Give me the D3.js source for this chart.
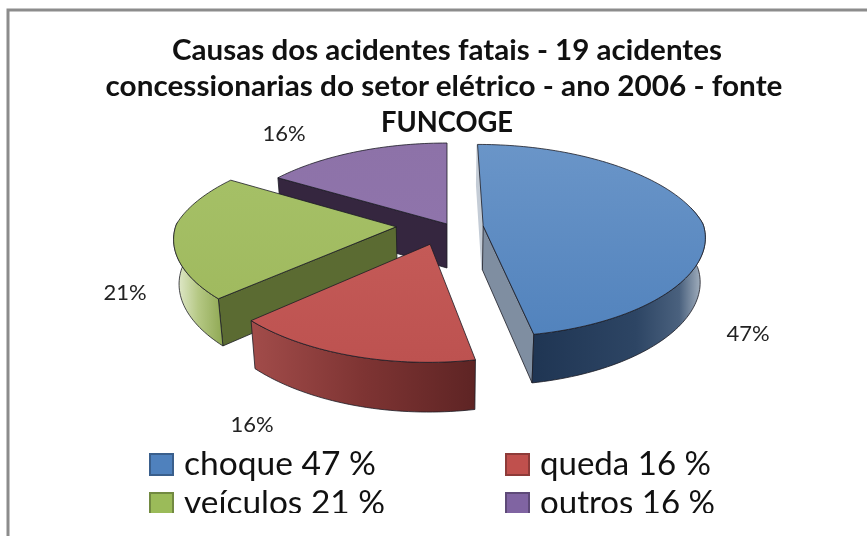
<!DOCTYPE html>
<html>
<head>
<meta charset="utf-8">
<title>Causas dos acidentes fatais</title>
<script src="https://d3js.org/d3.v7.min.js"></script>
<style>
  html, body { margin: 0; padding: 0; background: #fff; overflow: hidden; }
  svg { display: block; filter: blur(0.45px); }
  text { font-family: Lato, "Open Sans", sans-serif; fill: #111; }
</style>
</head>
<body>
<div id="chart"></div>
<script>
// data
var categories = ["choque", "queda", "veículos", "outros"];
var values = [47, 16, 21, 16];
var titleLines = ["Causas dos acidentes fatais - 19 acidentes",
                  "concessionarias do setor elétrico - ano 2006 - fonte",
                  "FUNCOGE"];

var width = 867, height = 536;

var svg = d3.select("#chart").append("svg")
    .attr("width", width)
    .attr("height", height);

var defs = svg.append("defs");

// chart frame, only the top and left sides are inside the crop
svg.append("rect")
    .attr("x", 8).attr("y", 10)
    .attr("width", 1000).attr("height", 1000)
    .attr("fill", "#fff")
    .attr("stroke", "#8c8c8c")
    .attr("stroke-width", 3);

// title
var titleX = [447, 444, 447];
var titleY = [60, 96, 132];
var titleW = [550, 677, 132];
svg.selectAll("text.title")
    .data(titleLines)
    .enter().append("text")
    .attr("class", "title")
    .attr("x", function(d, i) { return titleX[i]; })
    .attr("y", function(d, i) { return titleY[i]; })
    .attr("text-anchor", "middle")
    .attr("textLength", function(d, i) { return titleW[i]; })
    .attr("lengthAdjust", "spacingAndGlyphs")
    .style("font-size", "28px")
    .style("font-weight", 700)
    .text(function(d) { return d; });

// perspective used for the tilted pie
var center = {x: 447, y: 224};
var radiusX = 220, radiusY = 93.3, depth = 44, persp = 0.152, drop = 0.02;

// how far each slice is pulled out, in pie radius units
var explode = [
    {x: 0.164, z: 0.02},
    {x: -0.075, z: 0.21},
    {x: -0.23, z: 0.03},
    {x: 0, z: 0}
];

function project(x, z, h) {
    var s = 1 / (1 - persp * z);
    var sx = Math.pow(s, z < 0 ? 1.2 : 0.7) * (1 - drop * h);
    return [center.x + radiusX * x * sx,
            center.y + radiusY * z * s + depth * h * Math.pow(s, 0.6)];
}

var pie = d3.pie().sort(null)(values);

function pt(i, a, r, h) {
    var e = explode[i];
    return project(e.x + r * Math.sin(a), e.z - r * Math.cos(a), h);
}

function arcPoints(i, a0, a1, h) {
    var n = Math.max(2, Math.ceil(Math.abs(a1 - a0) * 40));
    return d3.range(n + 1).map(function(k) {
        return pt(i, a0 + (a1 - a0) * k / n, 1, h);
    });
}

var line = d3.line();

var colors = [
    {top0: "#6a95c8", top1: "#5283bd", cutA: "#c4ccd6", cutB: "#7f8ea1",
     rim: [[0, "#1f3553"], [0.6, "#2d4564"], [0.85, "#4a617e"], [1, "#b4bfcb"]]},
    {top0: "#c45a57", top1: "#bd5250", cutA: "#5e2625", cutB: "#8e3f3d",
     rim: [[0, "#5e2424"], [0.5, "#7e3433"], [1, "#a24c4a"]]},
    {top0: "#a5c066", top1: "#a0ba5f", cutA: "#5b6b32", cutB: "#5b6b32",
     rim: [[0, "#e9efd8"], [0.5, "#b5c884"], [1, "#8fa853"]]},
    {top0: "#8d72a8", top1: "#8f74ab", cutA: "#35263f", cutB: "#35263f",
     rim: [[0, "#35263f"], [1, "#35263f"]]}
];

// which cut walls each slice shows: 0 start angle, 1 end angle
var walls = [[0, 1], [], [0], [0]];

function rimRange(i, d) {
    if (i == 0) return [Math.PI / 2 - 0.2, d.endAngle];
    if (i == 1) return [d.startAngle, d.endAngle];
    if (i == 2) return [d.startAngle, 3 * Math.PI / 2 + 0.05];
    return null;
}

// drawn back to front
var order = [3, 0, 2, 1];
var outline = "#1c1c24";

order.forEach(function(i) {
    var d = pie[i], g = svg.append("g").attr("class", "slice");
    var c = colors[i];

    // walls along the cut edges
    walls[i].forEach(function(k) {
        var a = k == 0 ? d.startAngle : d.endAngle;
        var sliver = i == 0 && k == 0;
        var wall = [pt(i, a, 0, 0), pt(i, a, 1, 0), pt(i, a, 1, 1), pt(i, a, 0, 1)];
        g.append("path")
            .attr("d", line(wall) + "Z")
            .attr("fill", k == 0 ? c.cutA : c.cutB)
            .attr("stroke", sliver ? c.cutA : outline)
            .attr("stroke-width", sliver ? 2 : 0.8);
    });

    // outer rim
    var range = rimRange(i, d);
    if (range) {
        var upper = arcPoints(i, range[0], range[1], 0);
        var lower = arcPoints(i, range[0], range[1], 1);
        var xs = d3.extent(upper.concat(lower), function(p) { return p[0]; });
        var grad = defs.append("linearGradient")
            .attr("id", "rim" + i)
            .attr("gradientUnits", "userSpaceOnUse")
            .attr("x1", i == 1 ? xs[1] : xs[0]).attr("x2", i == 1 ? xs[0] : xs[1])
            .attr("y1", 0).attr("y2", 0);
        c.rim.forEach(function(s) {
            grad.append("stop").attr("offset", s[0]).attr("stop-color", s[1]);
        });
        g.append("path")
            .attr("d", line(upper.concat(lower.reverse())) + "Z")
            .attr("fill", "url(#rim" + i + ")")
            .attr("stroke", outline)
            .attr("stroke-width", 0.8);
    }

    // top face
    var grad2 = defs.append("linearGradient")
        .attr("id", "top" + i)
        .attr("x1", 0).attr("x2", 0).attr("y1", 0).attr("y2", 1);
    grad2.append("stop").attr("offset", 0).attr("stop-color", c.top0);
    grad2.append("stop").attr("offset", 1).attr("stop-color", c.top1);
    var face = [pt(i, 0, 0, 0)].concat(arcPoints(i, d.startAngle, d.endAngle, 0));
    g.append("path")
        .attr("d", line(face) + "Z")
        .attr("fill", "url(#top" + i + ")")
        .attr("stroke", outline)
        .attr("stroke-width", 0.8)
        .attr("stroke-linejoin", "round");
});

// data labels
var labelX = [748, 252, 125, 284];
var labelY = [341, 432, 300, 141];
svg.selectAll("text.label")
    .data(values)
    .enter().append("text")
    .attr("class", "label")
    .attr("x", function(d, i) { return labelX[i]; })
    .attr("y", function(d, i) { return labelY[i]; })
    .attr("text-anchor", "middle")
    .style("font-size", "22px")
    .style("fill", "#222")
    .text(function(d) { return d + "%"; });

// legend, the last row is cut off in the original
defs.append("clipPath").attr("id", "legendClip")
    .append("rect").attr("x", 0).attr("y", 440).attr("width", width).attr("height", 73);

var legendColors = ["#4f81bd", "#c0504d", "#9bbb59", "#8064a2"];
var legendStroke = ["#3a5f8c", "#8e3b39", "#728a41", "#5e4a78"];
var legendX = [149, 505, 149, 505];
var legendY = [453, 453, 492, 492];
var legendW = [192, 171, 201, 175];

var legend = svg.append("g").attr("clip-path", "url(#legendClip)");
var items = legend.selectAll("g")
    .data(categories)
    .enter().append("g")
    .attr("transform", function(d, i) { return "translate(" + legendX[i] + "," + legendY[i] + ")"; });

items.append("rect")
    .attr("x", 1).attr("y", 1)
    .attr("width", 23).attr("height", 21)
    .attr("fill", function(d, i) { return legendColors[i]; })
    .attr("stroke", function(d, i) { return legendStroke[i]; })
    .attr("stroke-width", 2);

items.append("text")
    .attr("x", 35)
    .attr("y", 22)
    .attr("textLength", function(d, i) { return legendW[i]; })
    .attr("lengthAdjust", "spacingAndGlyphs")
    .style("font-size", "33px")
    .text(function(d, i) { return d + " " + values[i] + " %"; });
</script>
</body>
</html>
